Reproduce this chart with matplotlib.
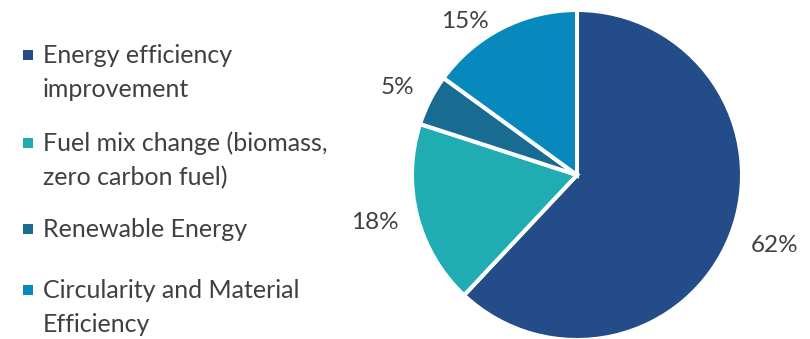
import matplotlib
matplotlib.use("Agg")
import matplotlib.pyplot as plt
from matplotlib.patches import Rectangle
import numpy as np

# Share of emission reduction by lever
categories = [
    "Energy efficiency\nimprovement",
    "Fuel mix change (biomass,\nzero carbon fuel)",
    "Renewable Energy",
    "Circularity and Material\nEfficiency",
]
shares = [62, 18, 5, 15]
colors = ["#234C88", "#1FADB3", "#186C92", "#0789BD"]

W, H, DPI = 810, 339, 100
fig = plt.figure(figsize=(W / DPI, H / DPI), dpi=DPI)
plt.rcParams["font.family"] = ["Lato", "DejaVu Sans"]
text_color = "#404040"

# pie geometry in pixels
cx, cy, R = 577, 175, 165
ax = fig.add_axes([0, 0, 1, 1])

wedges, _ = ax.pie(
    shares,
    colors=colors,
    startangle=90,
    counterclock=False,
    radius=1,
    wedgeprops=dict(edgecolor="white", linewidth=2.9),
)
ax.set_xlim(-cx / R, (W - cx) / R)
ax.set_ylim(-(H - cy) / R, cy / R)
ax.set_aspect("equal")
ax.axis("off")

# percentage labels just outside each wedge
label_offsets = [(44, -10), (-42, -6), (-33, 13), (-37, 6)]
for w, val, off in zip(wedges, shares, label_offsets):
    ang = np.deg2rad((w.theta1 + w.theta2) / 2)
    ax.annotate(
        f"{val}%",
        xy=(np.cos(ang), np.sin(ang)),
        xytext=off,
        textcoords="offset pixels",
        ha="center",
        va="center",
        fontsize=17.5,
        color=text_color,
    )

# legend: square marker and wrapped text lines
first_baselines = [63, 151, 237, 298]
line_step = 34
for label, color, base in zip(categories, colors, first_baselines):
    fig.patches.append(
        Rectangle((23 / W, 1 - (base - 3) / H), 10 / W, 10 / H,
                  transform=fig.transFigure, facecolor=color, edgecolor="none")
    )
    for i, line in enumerate(label.split("\n")):
        fig.text(43 / W, 1 - (base + i * line_step) / H, line,
                 ha="left", va="baseline", fontsize=18, color=text_color)

fig.savefig("out.png", dpi=DPI)
